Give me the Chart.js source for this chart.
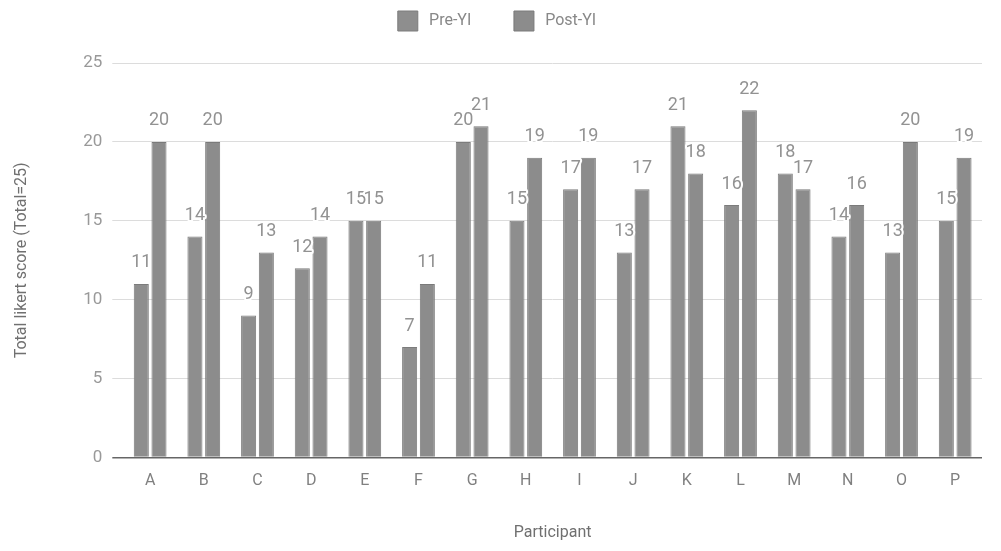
<!DOCTYPE html>
<html>
<head>
<meta charset="utf-8">
<script src="https://cdn.jsdelivr.net/npm/chart.js@4/dist/chart.umd.min.js"></script>
<style>
  html, body { margin: 0; padding: 0; background: #fff; }
  #wrap { width: 1001px; height: 551px; position: relative; }
</style>
</head>
<body>
<div id="wrap"><canvas id="chart"></canvas></div>
<script>
const participants = ['A', 'B', 'C', 'D', 'E', 'F', 'G', 'H', 'I', 'J', 'K', 'L', 'M', 'N', 'O', 'P'];
const preYI = [11, 14, 9, 12, 15, 7, 20, 15, 17, 13, 21, 16, 18, 14, 13, 15];
const postYI = [20, 20, 13, 14, 15, 11, 21, 19, 19, 17, 18, 22, 17, 16, 20, 19];
const yTicks = [0, 5, 10, 15, 20, 25];

// value labels above each bar, white halo like the original
const barLabels = {
  id: 'barLabels',
  afterDatasetsDraw(chart) {
    const ctx = chart.ctx;
    ctx.save();
    ctx.font = '18px Roboto';
    ctx.textAlign = 'center';
    ctx.textBaseline = 'bottom';
    ctx.lineJoin = 'round';
    chart.data.datasets.forEach((ds, i) => {
      chart.getDatasetMeta(i).data.forEach((bar, j) => {
        const txt = String(ds.data[j]);
        const y = bar.y - 12;
        ctx.strokeStyle = '#fff';
        ctx.lineWidth = 4;
        ctx.strokeText(txt, bar.x, y);
        ctx.fillStyle = '#929292';
        ctx.fillText(txt, bar.x, y);
      });
    });
    ctx.restore();
  }
};

// leave more room under the legend
const legendGap = {
  id: 'legendGap',
  beforeInit(chart) {
    const fit = chart.legend.fit;
    chart.legend.fit = function () {
      fit.bind(chart.legend)();
      this.height += 22;
    };
  }
};

new Chart(document.getElementById('chart').getContext('2d'), {
  type: 'bar',
  data: {
    labels: participants,
    datasets: [
      {
        label: 'Pre-YI',
        data: preYI,
        backgroundColor: '#8e8e8e',
        borderColor: '#7c7c7c',
        borderWidth: 1
      },
      {
        label: 'Post-YI',
        data: postYI,
        backgroundColor: '#8c8c8c',
        borderColor: '#7a7a7a',
        borderWidth: 1
      }
    ]
  },
  options: {
    responsive: true,
    maintainAspectRatio: false,
    animation: false,
    categoryPercentage: 0.66,
    barPercentage: 0.85,
    layout: {
      padding: { left: 12, right: 19, top: 1, bottom: 8 }
    },
    plugins: {
      legend: {
        position: 'top',
        labels: {
          boxWidth: 20,
          boxHeight: 20,
          padding: 10,
          color: '#888',
          font: { family: 'Roboto', size: 16 },
          generateLabels(chart) {
            const items = Chart.defaults.plugins.legend.labels.generateLabels(chart);
            items[0].text = '\u2009' + items[0].text + '\u2003\u2003';
            items[1].text = '\u2009' + items[1].text;
            return items;
          }
        }
      },
      tooltip: { enabled: false }
    },
    scales: {
      x: {
        grid: { display: false },
        border: { display: false },
        ticks: {
          color: '#808080',
          font: { family: 'Roboto', size: 16 },
          padding: 6
        },
        title: {
          display: true,
          text: 'Participant',
          color: '#707070',
          font: { family: 'Roboto', size: 16 },
          padding: { top: 27, bottom: 0 }
        }
      },
      y: {
        min: 0,
        max: 25,
        afterBuildTicks(axis) {
          axis.ticks = yTicks.map(v => ({ value: v }));
        },
        border: { display: false },
        grid: {
          color: ctx => ctx.tick && ctx.tick.value === 0 ? '#666' : '#dcdcdc',
          lineWidth: ctx => ctx.tick && ctx.tick.value === 0 ? 1.5 : 1,
          tickLength: 11
        },
        ticks: {
          color: '#999',
          font: { family: 'Roboto', size: 17 },
          padding: 10
        },
        title: {
          display: true,
          text: 'Total likert score (Total=25)',
          color: '#707070',
          font: { family: 'Roboto', size: 16 },
          padding: { top: 0, bottom: 42 }
        }
      }
    }
  },
  plugins: [barLabels, legendGap]
});
</script>
</body>
</html>
